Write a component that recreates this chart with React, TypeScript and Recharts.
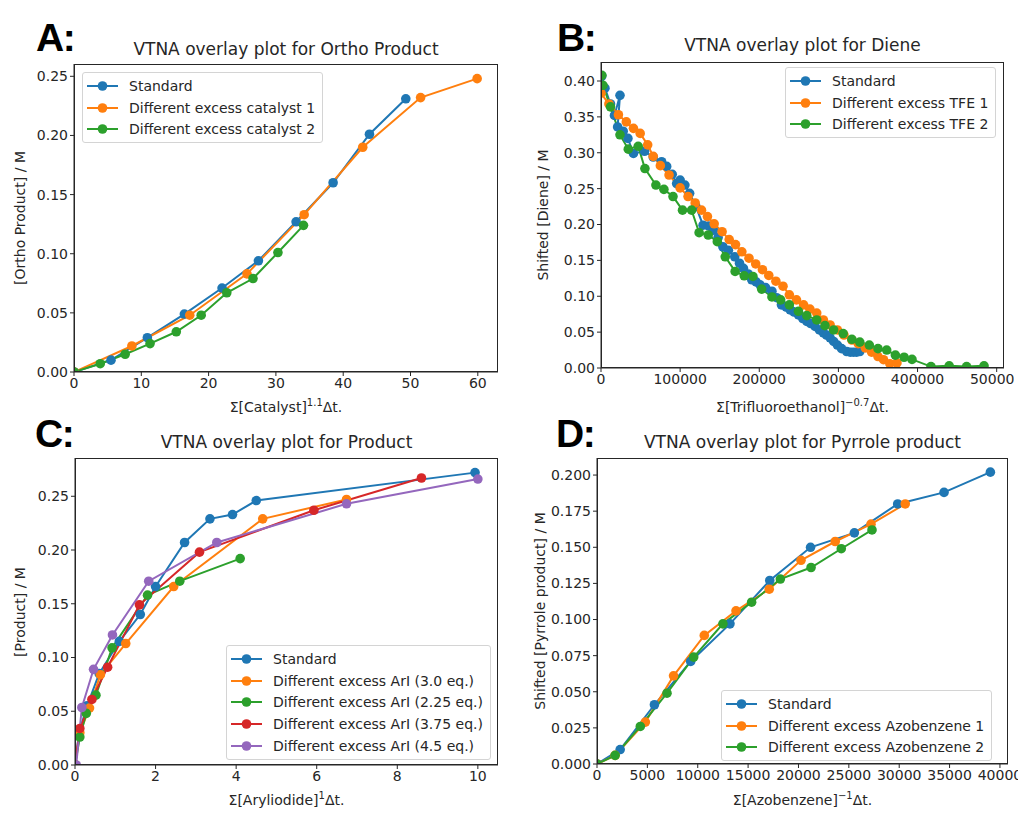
import React from 'react'
import { LineChart, Line, XAxis, YAxis, Legend } from 'recharts'

const FONT = '"DejaVu Sans", sans-serif'
const INK = '#262626'
const BLUE = '#1f77b4'
const ORANGE = '#ff7f0e'
const GREEN = '#2ca02c'
const RED = '#d62728'
const PURPLE = '#9467bd'

// A: Ortho product
const aStdX = [0, 5.5, 10.9, 16.4, 22.0, 27.4, 33.0, 38.5, 43.9, 49.3]
const aStdY = [0, 0.010, 0.029, 0.049, 0.071, 0.094, 0.127, 0.160, 0.201, 0.231]
const aCat1X = [0, 8.6, 17.2, 25.7, 34.2, 42.9, 51.5, 59.9]
const aCat1Y = [0, 0.022, 0.048, 0.083, 0.133, 0.190, 0.232, 0.248]
const aCat2X = [0, 3.9, 7.6, 11.3, 15.2, 18.9, 22.7, 26.6, 30.3, 34.1]
const aCat2Y = [0, 0.007, 0.015, 0.024, 0.034, 0.048, 0.067, 0.079, 0.101, 0.124]

// B: Diene
const bStdX = [1000, 5000, 12000, 17000, 24000, 21000, 28000, 34000, 41000, 55000, 66000, 76600, 83000, 90000, 95600, 100000, 106000, 112000, 120000, 129000, 136000, 142000, 148000, 154000, 161000, 169000, 175000, 180000, 186000, 190500, 196000, 201000, 208000, 216000, 222000, 228000, 234000, 239000, 244000, 249500, 255000, 260000, 265000, 270500, 276000, 281000, 285000, 289500, 294000, 298700, 304000, 310500, 315000, 319000, 323000, 327000]
const bStdY = [0.407, 0.390, 0.368, 0.352, 0.380, 0.336, 0.330, 0.320, 0.299, 0.302, 0.294, 0.2875, 0.281, 0.270, 0.257, 0.262, 0.255, 0.2435, 0.225, 0.199, 0.198, 0.192, 0.182, 0.169, 0.164, 0.155, 0.146, 0.139, 0.131, 0.123, 0.120, 0.116, 0.112, 0.107, 0.098, 0.088, 0.085, 0.081, 0.078, 0.074, 0.069, 0.065, 0.062, 0.058, 0.053, 0.049, 0.046, 0.042, 0.037, 0.032, 0.027, 0.023, 0.022, 0.022, 0.022, 0.023]
const bTfe1X = [0, 10000, 22000, 32000, 41000, 49500, 59000, 66000, 75000, 86000, 100000, 110000, 119000, 127000, 134500, 143000, 153000, 162000, 170000, 178000, 187000, 195500, 204000, 212000, 221000, 230000, 238000, 247000, 256000, 264000, 272600, 281000, 289500, 298700, 307000, 317000, 325000, 334000, 342000, 350000, 357000, 365000, 374000]
const bTfe1Y = [0.383, 0.368, 0.353, 0.343, 0.334, 0.327, 0.311, 0.295, 0.282, 0.269, 0.251, 0.239, 0.230, 0.220, 0.211, 0.201, 0.190, 0.179, 0.172, 0.162, 0.153, 0.145, 0.137, 0.129, 0.121, 0.114, 0.102, 0.095, 0.088, 0.082, 0.0766, 0.067, 0.060, 0.053, 0.046, 0.039, 0.034, 0.028, 0.022, 0.016, 0.0116, 0.006, 0.007]
const bTfe2X = [1000, 2500, 12000, 24000, 34500, 47000, 55500, 69400, 79500, 91000, 103000, 114500, 124000, 135500, 147000, 157000, 169500, 181000, 192000, 203000, 216000, 227000, 238000, 249500, 260000, 272600, 283000, 294000, 306000, 317000, 327000, 339000, 350000, 361000, 372000, 383000, 393000, 417000, 440000, 462000, 484000]
const bTfe2Y = [0.408, 0.394, 0.364, 0.325, 0.305, 0.309, 0.278, 0.255, 0.249, 0.239, 0.220, 0.220, 0.1886, 0.1854, 0.176, 0.155, 0.1346, 0.1285, 0.1276, 0.110, 0.099, 0.095, 0.088, 0.079, 0.073, 0.067, 0.059, 0.053, 0.048, 0.040, 0.036, 0.032, 0.027, 0.025, 0.018, 0.015, 0.012, 0.002, 0.003, 0.002, 0.003]

// C: Product
const cStdX = [0, 0.1, 0.3, 0.6, 1.1, 1.62, 2.0, 2.72, 3.35, 3.91, 4.5, 9.93]
const cStdY = [0, 0.030, 0.055, 0.085, 0.115, 0.140, 0.166, 0.207, 0.229, 0.233, 0.246, 0.272]
const cAr30X = [0, 0.12, 0.36, 0.63, 1.26, 2.45, 4.66, 6.74]
const cAr30Y = [0, 0.030, 0.053, 0.084, 0.113, 0.166, 0.229, 0.247]
const cAr225X = [0, 0.12, 0.28, 0.52, 0.92, 1.8, 2.6, 4.1]
const cAr225Y = [0, 0.026, 0.048, 0.065, 0.109, 0.158, 0.171, 0.192]
const cAr375X = [0, 0.12, 0.42, 0.81, 1.6, 3.09, 5.93, 8.6]
const cAr375Y = [0, 0.034, 0.061, 0.091, 0.149, 0.198, 0.237, 0.267]
const cAr45X = [0.03, 0.17, 0.46, 0.93, 1.83, 3.52, 6.74, 10.0]
const cAr45Y = [0, 0.0535, 0.089, 0.121, 0.171, 0.207, 0.243, 0.266]

// D: Pyrrole product
const dStdX = [0, 2300, 5700, 9300, 13200, 17150, 21200, 25550, 29850, 34450, 39050]
const dStdY = [0, 0.010, 0.041, 0.071, 0.097, 0.127, 0.150, 0.160, 0.180, 0.188, 0.202]
const dAzo1X = [0, 1800, 4800, 7600, 10650, 13800, 17100, 20250, 23650, 27200, 30600]
const dAzo1Y = [0, 0.006, 0.029, 0.061, 0.089, 0.106, 0.121, 0.141, 0.154, 0.166, 0.180]
const dAzo2X = [0, 1800, 4300, 6950, 9600, 12500, 15350, 18200, 21250, 24250, 27300]
const dAzo2Y = [0, 0.006, 0.026, 0.049, 0.074, 0.097, 0.112, 0.128, 0.136, 0.149, 0.162]

type Series = { name: string; color: string; xs: number[]; ys: number[] }
type Rect = { x: number; y: number; w: number; h: number }

const zip = (xs: number[], ys: number[]) => xs.map((x, i) => ({ x, y: ys[i] }))

function LegendBox({ items }: { items: Series[] }) {
  return (
    <div style={{ display: 'inline-block', background: 'rgba(255,255,255,0.8)', border: '1px solid #d4d4d4', borderRadius: 3, padding: '2px 7px 2px 4px', fontFamily: FONT, fontSize: 14, color: INK }}>
      {items.map(s => (
        <div key={s.name} style={{ display: 'flex', alignItems: 'center', height: 21.8 }}>
          <svg width={31} height={12}>
            <line x1={0} x2={31} y1={6} y2={6} stroke={s.color} strokeWidth={2} />
            <circle cx={15.5} cy={6} r={4.8} fill={s.color} />
          </svg>
          <span style={{ marginLeft: 11, whiteSpace: 'nowrap' }}>{s.name}</span>
        </div>
      ))}
    </div>
  )
}

function Panel(props: {
  plot: Rect; xDomain: [number, number]; yDomain: [number, number]
  xTicks: number[]; yTicks: number[]; yDigits: number
  series: Series[]; legendAt: [number, number]
  title: string; titleY: number
  xLabel: React.ReactNode; xLabelY: number
  yLabel: string; yLabelX: number
  letter: string; letterAt: [number, number]
}) {
  const { plot, series } = props
  const left = plot.x - 60
  const top = plot.y - 10
  const cx = plot.x + plot.w / 2
  const cy = plot.y + plot.h / 2
  const tick = { fill: INK, fontSize: 14, fontFamily: FONT }
  return (
    <>
      <div style={{ position: 'absolute', left: props.letterAt[0], top: props.letterAt[1], fontFamily: '"Liberation Sans", Arial, sans-serif', fontWeight: 700, fontSize: 39, letterSpacing: -1.5, lineHeight: '40px', color: '#000' }}>
        {props.letter}
      </div>
      <div style={{ position: 'absolute', left: cx - 250, width: 500, top: props.titleY, textAlign: 'center', fontFamily: FONT, fontSize: 17, lineHeight: '20px', color: INK }}>
        {props.title}
      </div>
      <div style={{ position: 'absolute', left, top }}>
        <LineChart width={plot.w + 70} height={plot.h + 40} margin={{ top: 10, right: 10, bottom: 0, left: 10 }}>
          <XAxis dataKey="x" type="number" domain={props.xDomain} ticks={props.xTicks} allowDataOverflow
            height={30} tick={tick} tickSize={4} tickMargin={2} stroke={INK} interval={0} />
          <YAxis type="number" domain={props.yDomain} ticks={props.yTicks} allowDataOverflow
            width={50} tick={tick} tickSize={4} tickMargin={2} stroke={INK} interval={0}
            tickFormatter={(v: number) => v.toFixed(props.yDigits)} />
          {series.map(s => (
            <Line key={s.name} data={zip(s.xs, s.ys)} dataKey="y" name={s.name} stroke={s.color} strokeWidth={2}
              dot={{ r: 4.8, fill: s.color, stroke: s.color, strokeWidth: 0 }} activeDot={false}
              isAnimationActive={false} />
          ))}
          <Legend layout="horizontal" verticalAlign="middle" align="center"
            wrapperStyle={{ left: props.legendAt[0] - left, top: props.legendAt[1] - top, width: 'auto', height: 'auto' }}
            content={() => <LegendBox items={series} />} />
        </LineChart>
      </div>
      <div style={{ position: 'absolute', left: plot.x, top: plot.y, width: plot.w, height: plot.h, border: `1px solid ${INK}`, boxSizing: 'border-box', pointerEvents: 'none' }} />
      <div style={{ position: 'absolute', left: cx - 250, width: 500, top: props.xLabelY, textAlign: 'center', fontFamily: FONT, fontSize: 14, lineHeight: '18px', color: INK }}>
        {props.xLabel}
      </div>
      <div style={{ position: 'absolute', left: props.yLabelX - 150, width: 300, top: cy - 9, height: 18, lineHeight: '18px', transform: 'rotate(-90deg)', textAlign: 'center', fontFamily: FONT, fontSize: 14, color: INK }}>
        {props.yLabel}
      </div>
    </>
  )
}

const sup = (t: string) => <sup style={{ fontSize: 10, verticalAlign: 6, lineHeight: 0 }}>{t}</sup>

export default function App() {
  return (
    <div style={{ position: 'absolute', left: 0, top: 0, width: 1025, height: 817, background: '#fff', overflow: 'hidden' }}>
      <Panel
        plot={{ x: 74, y: 64, w: 424, h: 308 }}
        xDomain={[0, 63]} yDomain={[0, 0.2604]}
        xTicks={[0, 10, 20, 30, 40, 50, 60]} yTicks={[0, 0.05, 0.1, 0.15, 0.2, 0.25]} yDigits={2}
        series={[
          { name: 'Standard', color: BLUE, xs: aStdX, ys: aStdY },
          { name: 'Different excess catalyst 1', color: ORANGE, xs: aCat1X, ys: aCat1Y },
          { name: 'Different excess catalyst 2', color: GREEN, xs: aCat2X, ys: aCat2Y },
        ]}
        legendAt={[82, 72]}
        title="VTNA overlay plot for Ortho Product" titleY={39}
        xLabel={<>Σ[Catalyst]{sup('1.1')}Δt.</>} xLabelY={398}
        yLabel="[Ortho Product] / M" yLabelX={20}
        letter="A:" letterAt={[36, 18]}
      />
      <Panel
        plot={{ x: 601, y: 62, w: 403, h: 306 }}
        xDomain={[0, 509250]} yDomain={[0, 0.4265]}
        xTicks={[0, 100000, 200000, 300000, 400000, 500000]} yTicks={[0, 0.05, 0.1, 0.15, 0.2, 0.25, 0.3, 0.35, 0.4]} yDigits={2}
        series={[
          { name: 'Standard', color: BLUE, xs: bStdX, ys: bStdY },
          { name: 'Different excess TFE 1', color: ORANGE, xs: bTfe1X, ys: bTfe1Y },
          { name: 'Different excess TFE 2', color: GREEN, xs: bTfe2X, ys: bTfe2Y },
        ]}
        legendAt={[785, 67]}
        title="VTNA overlay plot for Diene" titleY={35}
        xLabel={<>Σ[Trifluoroethanol]{sup('−0.7')}Δt.</>} xLabelY={398}
        yLabel="Shifted [Diene] / M" yLabelX={543}
        letter="B:" letterAt={[557, 18]}
      />
      <Panel
        plot={{ x: 75, y: 458, w: 423, h: 307 }}
        xDomain={[0, 10.5]} yDomain={[0, 0.2856]}
        xTicks={[0, 2, 4, 6, 8, 10]} yTicks={[0, 0.05, 0.1, 0.15, 0.2, 0.25]} yDigits={2}
        series={[
          { name: 'Standard', color: BLUE, xs: cStdX, ys: cStdY },
          { name: 'Different excess ArI (3.0 eq.)', color: ORANGE, xs: cAr30X, ys: cAr30Y },
          { name: 'Different excess ArI (2.25 eq.)', color: GREEN, xs: cAr225X, ys: cAr225Y },
          { name: 'Different excess ArI (3.75 eq.)', color: RED, xs: cAr375X, ys: cAr375Y },
          { name: 'Different excess ArI (4.5 eq.)', color: PURPLE, xs: cAr45X, ys: cAr45Y },
        ]}
        legendAt={[226, 645]}
        title="VTNA overlay plot for Product" titleY={432}
        xLabel={<>Σ[Aryliodide]{sup('1')}Δt.</>} xLabelY={791}
        yLabel="[Product] / M" yLabelX={20}
        letter="C:" letterAt={[35, 414]}
      />
      <Panel
        plot={{ x: 597, y: 458, w: 411, h: 306 }}
        xDomain={[0, 40800]} yDomain={[0, 0.2118]}
        xTicks={[0, 5000, 10000, 15000, 20000, 25000, 30000, 35000, 40000]} yTicks={[0, 0.025, 0.05, 0.075, 0.1, 0.125, 0.15, 0.175, 0.2]} yDigits={3}
        series={[
          { name: 'Standard', color: BLUE, xs: dStdX, ys: dStdY },
          { name: 'Different excess Azobenzene 1', color: ORANGE, xs: dAzo1X, ys: dAzo1Y },
          { name: 'Different excess Azobenzene 2', color: GREEN, xs: dAzo2X, ys: dAzo2Y },
        ]}
        legendAt={[721, 690]}
        title="VTNA overlay plot for Pyrrole product" titleY={432}
        xLabel={<>Σ[Azobenzene]{sup('−1')}Δt.</>} xLabelY={791}
        yLabel="Shifted [Pyrrole product] / M" yLabelX={540}
        letter="D:" letterAt={[556, 414]}
      />
    </div>
  )
}
